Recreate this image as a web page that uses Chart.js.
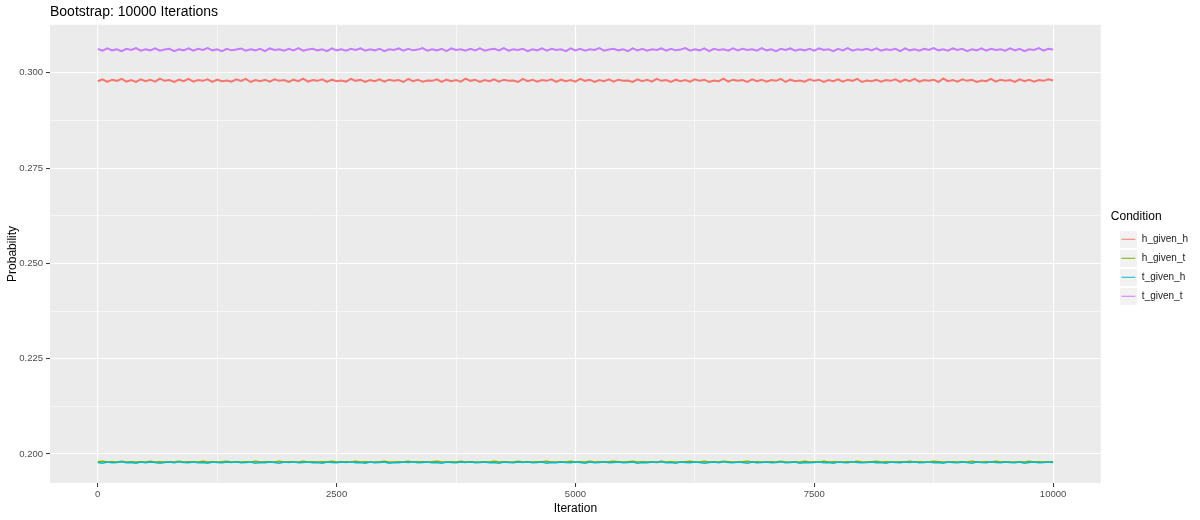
<!DOCTYPE html>
<html>
<head>
<meta charset="utf-8">
<title>Bootstrap: 10000 Iterations</title>
<script src="https://cdn.jsdelivr.net/npm/chart.js@4.4.1/dist/chart.umd.min.js"></script>
<style>
  html, body { margin: 0; padding: 0; background: #fff; }
  #wrap { width: 1200px; height: 520px; }
</style>
</head>
<body>
<div id="wrap"><canvas id="lineChart" width="1200" height="520"></canvas></div>
<script>
// iteration index (read every 50 iterations)
const iterations = [
  0, 50, 100, 150, 200, 250, 300, 350, 400, 450,
  500, 550, 600, 650, 700, 750, 800, 850, 900, 950,
  1000, 1050, 1100, 1150, 1200, 1250, 1300, 1350, 1400, 1450,
  1500, 1550, 1600, 1650, 1700, 1750, 1800, 1850, 1900, 1950,
  2000, 2050, 2100, 2150, 2200, 2250, 2300, 2350, 2400, 2450,
  2500, 2550, 2600, 2650, 2700, 2750, 2800, 2850, 2900, 2950,
  3000, 3050, 3100, 3150, 3200, 3250, 3300, 3350, 3400, 3450,
  3500, 3550, 3600, 3650, 3700, 3750, 3800, 3850, 3900, 3950,
  4000, 4050, 4100, 4150, 4200, 4250, 4300, 4350, 4400, 4450,
  4500, 4550, 4600, 4650, 4700, 4750, 4800, 4850, 4900, 4950,
  5000, 5050, 5100, 5150, 5200, 5250, 5300, 5350, 5400, 5450,
  5500, 5550, 5600, 5650, 5700, 5750, 5800, 5850, 5900, 5950,
  6000, 6050, 6100, 6150, 6200, 6250, 6300, 6350, 6400, 6450,
  6500, 6550, 6600, 6650, 6700, 6750, 6800, 6850, 6900, 6950,
  7000, 7050, 7100, 7150, 7200, 7250, 7300, 7350, 7400, 7450,
  7500, 7550, 7600, 7650, 7700, 7750, 7800, 7850, 7900, 7950,
  8000, 8050, 8100, 8150, 8200, 8250, 8300, 8350, 8400, 8450,
  8500, 8550, 8600, 8650, 8700, 8750, 8800, 8850, 8900, 8950,
  9000, 9050, 9100, 9150, 9200, 9250, 9300, 9350, 9400, 9450,
  9500, 9550, 9600, 9650, 9700, 9750, 9800, 9850, 9900, 9950,
  10000
];

const conditions = ['h_given_h', 'h_given_t', 't_given_h', 't_given_t'];
const colors = ['#F8766D', '#7CAE00', '#00BFC4', '#C77CFF'];
const lineWidths = [2, 1.5, 1.5, 2];

const hGivenH = [
  0.2978, 0.2983, 0.2976, 0.2982, 0.2979, 0.2984, 0.2977, 0.2981, 0.2976, 0.2983,
  0.2978, 0.2982, 0.2977, 0.2985, 0.2979, 0.2981, 0.2976, 0.2982, 0.2978, 0.2984,
  0.2977, 0.2981, 0.2979, 0.2983, 0.2976, 0.2982, 0.2978, 0.2980, 0.2977, 0.2983,
  0.2979, 0.2984, 0.2976, 0.2981, 0.2978, 0.2982, 0.2977, 0.2983, 0.2979, 0.2981,
  0.2976, 0.2982, 0.2978, 0.2985, 0.2977, 0.2981, 0.2979, 0.2983, 0.2976, 0.2982,
  0.2978, 0.2980, 0.2977, 0.2984, 0.2979, 0.2982, 0.2976, 0.2981, 0.2978, 0.2983,
  0.2977, 0.2982, 0.2979, 0.2981, 0.2976, 0.2984, 0.2978, 0.2982, 0.2977, 0.2980,
  0.2979, 0.2983, 0.2976, 0.2982, 0.2978, 0.2981, 0.2977, 0.2985, 0.2979, 0.2982,
  0.2976, 0.2981, 0.2978, 0.2983, 0.2977, 0.2982, 0.2979, 0.2980, 0.2976, 0.2984,
  0.2978, 0.2982, 0.2977, 0.2981, 0.2979, 0.2983, 0.2976, 0.2982, 0.2978, 0.2981,
  0.2977, 0.2984, 0.2979, 0.2982, 0.2976, 0.2981, 0.2978, 0.2983, 0.2977, 0.2982,
  0.2979, 0.2980, 0.2976, 0.2983, 0.2978, 0.2982, 0.2977, 0.2984, 0.2979, 0.2981,
  0.2976, 0.2982, 0.2978, 0.2981, 0.2977, 0.2983, 0.2979, 0.2982, 0.2976, 0.2980,
  0.2978, 0.2985, 0.2977, 0.2982, 0.2979, 0.2981, 0.2976, 0.2983, 0.2978, 0.2982,
  0.2977, 0.2981, 0.2979, 0.2984, 0.2976, 0.2982, 0.2978, 0.2980, 0.2977, 0.2983,
  0.2979, 0.2982, 0.2976, 0.2981, 0.2978, 0.2983, 0.2977, 0.2982, 0.2979, 0.2984,
  0.2976, 0.2980, 0.2978, 0.2982, 0.2977, 0.2981, 0.2979, 0.2983, 0.2976, 0.2982,
  0.2978, 0.2984, 0.2977, 0.2981, 0.2979, 0.2982, 0.2976, 0.2985, 0.2978, 0.2981,
  0.2977, 0.2983, 0.2979, 0.2982, 0.2976, 0.2980, 0.2978, 0.2984, 0.2977, 0.2982,
  0.2979, 0.2981, 0.2976, 0.2983, 0.2978, 0.2982, 0.2977, 0.2981, 0.2979, 0.2983,
  0.2980
];

const hGivenT = [
  0.1980, 0.1981, 0.1979, 0.1980, 0.1979, 0.1981, 0.1979, 0.1980, 0.1979, 0.1980,
  0.1979, 0.1981, 0.1979, 0.1980, 0.1979, 0.1980, 0.1979, 0.1981, 0.1979, 0.1980,
  0.1980, 0.1979, 0.1981, 0.1979, 0.1980, 0.1979, 0.1980, 0.1981, 0.1979, 0.1980,
  0.1979, 0.1980, 0.1979, 0.1981, 0.1979, 0.1980, 0.1980, 0.1979, 0.1981, 0.1979,
  0.1980, 0.1979, 0.1979, 0.1981, 0.1979, 0.1980, 0.1979, 0.1980, 0.1979, 0.1981,
  0.1979, 0.1980, 0.1980, 0.1979, 0.1981, 0.1979, 0.1980, 0.1979, 0.1979, 0.1980,
  0.1981, 0.1979, 0.1979, 0.1980, 0.1979, 0.1981, 0.1979, 0.1980, 0.1980, 0.1979,
  0.1980, 0.1981, 0.1979, 0.1979, 0.1980, 0.1979, 0.1981, 0.1979, 0.1980, 0.1979,
  0.1979, 0.1980, 0.1979, 0.1981, 0.1979, 0.1980, 0.1979, 0.1979, 0.1981, 0.1979,
  0.1980, 0.1979, 0.1980, 0.1980, 0.1981, 0.1979, 0.1979, 0.1980, 0.1979, 0.1981,
  0.1979, 0.1980, 0.1979, 0.1981, 0.1979, 0.1980, 0.1979, 0.1980, 0.1981, 0.1980,
  0.1979, 0.1980, 0.1981, 0.1979, 0.1980, 0.1979, 0.1980, 0.1979, 0.1981, 0.1979,
  0.1980, 0.1979, 0.1979, 0.1980, 0.1981, 0.1979, 0.1979, 0.1981, 0.1979, 0.1980,
  0.1979, 0.1981, 0.1980, 0.1979, 0.1979, 0.1980, 0.1981, 0.1979, 0.1980, 0.1979,
  0.1979, 0.1980, 0.1979, 0.1981, 0.1979, 0.1979, 0.1980, 0.1979, 0.1981, 0.1979,
  0.1980, 0.1979, 0.1981, 0.1979, 0.1980, 0.1979, 0.1979, 0.1980, 0.1979, 0.1981,
  0.1979, 0.1979, 0.1980, 0.1981, 0.1979, 0.1980, 0.1979, 0.1979, 0.1980, 0.1979,
  0.1981, 0.1979, 0.1980, 0.1979, 0.1979, 0.1981, 0.1980, 0.1979, 0.1979, 0.1980,
  0.1979, 0.1980, 0.1979, 0.1981, 0.1979, 0.1979, 0.1980, 0.1979, 0.1981, 0.1979,
  0.1980, 0.1979, 0.1979, 0.1980, 0.1979, 0.1981, 0.1979, 0.1980, 0.1979, 0.1980,
  0.1980
];

const tGivenH = [
  0.1978, 0.1976, 0.1979, 0.1977, 0.1978, 0.1980, 0.1977, 0.1978, 0.1976, 0.1979,
  0.1977, 0.1979, 0.1978, 0.1976, 0.1978, 0.1979, 0.1977, 0.1980, 0.1978, 0.1977,
  0.1979, 0.1977, 0.1978, 0.1976, 0.1979, 0.1978, 0.1977, 0.1979, 0.1978, 0.1980,
  0.1977, 0.1978, 0.1979, 0.1976, 0.1978, 0.1977, 0.1979, 0.1978, 0.1976, 0.1979,
  0.1978, 0.1980, 0.1977, 0.1978, 0.1979, 0.1977, 0.1978, 0.1976, 0.1979, 0.1978,
  0.1977, 0.1979, 0.1978, 0.1980, 0.1977, 0.1978, 0.1976, 0.1979, 0.1977, 0.1978,
  0.1979, 0.1976, 0.1978, 0.1977, 0.1979, 0.1978, 0.1980, 0.1977, 0.1978, 0.1979,
  0.1977, 0.1978, 0.1976, 0.1979, 0.1978, 0.1977, 0.1979, 0.1978, 0.1980, 0.1977,
  0.1978, 0.1979, 0.1977, 0.1978, 0.1976, 0.1979, 0.1978, 0.1977, 0.1979, 0.1978,
  0.1980, 0.1977, 0.1978, 0.1979, 0.1976, 0.1978, 0.1977, 0.1979, 0.1978, 0.1977,
  0.1979, 0.1978, 0.1976, 0.1979, 0.1977, 0.1978, 0.1980, 0.1977, 0.1978, 0.1979,
  0.1977, 0.1978, 0.1979, 0.1976, 0.1978, 0.1977, 0.1979, 0.1978, 0.1980, 0.1977,
  0.1978, 0.1976, 0.1979, 0.1978, 0.1977, 0.1979, 0.1978, 0.1976, 0.1978, 0.1979,
  0.1977, 0.1980, 0.1978, 0.1977, 0.1979, 0.1978, 0.1976, 0.1979, 0.1977, 0.1978,
  0.1979, 0.1977, 0.1978, 0.1980, 0.1977, 0.1978, 0.1979, 0.1976, 0.1978, 0.1977,
  0.1978, 0.1979, 0.1977, 0.1978, 0.1976, 0.1979, 0.1978, 0.1977, 0.1980, 0.1978,
  0.1977, 0.1978, 0.1979, 0.1977, 0.1978, 0.1976, 0.1979, 0.1978, 0.1977, 0.1979,
  0.1978, 0.1980, 0.1977, 0.1978, 0.1979, 0.1977, 0.1978, 0.1976, 0.1979, 0.1978,
  0.1977, 0.1979, 0.1978, 0.1976, 0.1979, 0.1978, 0.1977, 0.1980, 0.1978, 0.1977,
  0.1979, 0.1978, 0.1977, 0.1979, 0.1976, 0.1978, 0.1979, 0.1977, 0.1978, 0.1979,
  0.1978
];

const tGivenT = [
  0.3063, 0.3058, 0.3064, 0.3059, 0.3062, 0.3057, 0.3063, 0.3060, 0.3065, 0.3058,
  0.3062, 0.3059, 0.3064, 0.3058, 0.3061, 0.3063, 0.3057, 0.3062, 0.3059, 0.3064,
  0.3058, 0.3063, 0.3060, 0.3065, 0.3059, 0.3062, 0.3057, 0.3063, 0.3059, 0.3061,
  0.3064, 0.3058, 0.3062, 0.3059, 0.3063, 0.3057, 0.3064, 0.3060, 0.3062, 0.3058,
  0.3063, 0.3059, 0.3065, 0.3058, 0.3061, 0.3063, 0.3059, 0.3062, 0.3057, 0.3064,
  0.3059, 0.3062, 0.3058, 0.3063, 0.3060, 0.3064, 0.3058, 0.3062, 0.3059, 0.3063,
  0.3057, 0.3062, 0.3060, 0.3064, 0.3058, 0.3063, 0.3059, 0.3061, 0.3065, 0.3058,
  0.3062, 0.3059, 0.3063, 0.3057, 0.3064, 0.3060, 0.3062, 0.3058, 0.3063, 0.3059,
  0.3064, 0.3058, 0.3061, 0.3063, 0.3059, 0.3065, 0.3058, 0.3062, 0.3060, 0.3063,
  0.3057, 0.3062, 0.3059, 0.3064, 0.3058, 0.3063, 0.3060, 0.3062, 0.3057, 0.3064,
  0.3059, 0.3063, 0.3058, 0.3062, 0.3060, 0.3065, 0.3058, 0.3061, 0.3063, 0.3059,
  0.3062, 0.3057, 0.3064, 0.3059, 0.3063, 0.3058, 0.3062, 0.3060, 0.3064, 0.3058,
  0.3063, 0.3059, 0.3061, 0.3065, 0.3058, 0.3062, 0.3059, 0.3064, 0.3057, 0.3063,
  0.3060, 0.3062, 0.3058, 0.3064, 0.3059, 0.3063, 0.3060, 0.3062, 0.3058, 0.3065,
  0.3059, 0.3062, 0.3057, 0.3063, 0.3060, 0.3064, 0.3058, 0.3062, 0.3059, 0.3063,
  0.3058, 0.3064, 0.3060, 0.3062, 0.3057, 0.3063, 0.3059, 0.3065, 0.3058, 0.3062,
  0.3060, 0.3063, 0.3059, 0.3064, 0.3058, 0.3062, 0.3060, 0.3063, 0.3057, 0.3064,
  0.3059, 0.3062, 0.3058, 0.3063, 0.3060, 0.3065, 0.3059, 0.3062, 0.3058, 0.3064,
  0.3060, 0.3063, 0.3057, 0.3062, 0.3059, 0.3064, 0.3058, 0.3063, 0.3060, 0.3062,
  0.3058, 0.3064, 0.3059, 0.3063, 0.3057, 0.3062, 0.3060, 0.3065, 0.3058, 0.3063,
  0.3061
];

const series = [hGivenH, hGivenT, tGivenH, tGivenT];

// major + minor break positions (ggplot style)
const xTickValues = [0, 1250, 2500, 3750, 5000, 6250, 7500, 8750, 10000];
const yTickValues = [0.2, 0.2125, 0.225, 0.2375, 0.25, 0.2625, 0.275, 0.2875, 0.3];

function isMajorX(v) { return v % 2500 === 0; }
function isMajorY(v) { return Math.round(v * 1000) % 25 === 0; }

// legend key: grey square with a short coloured line
function legendKey(color) {
  var c = document.createElement('canvas');
  c.width = 17; c.height = 17;
  var g = c.getContext('2d');
  g.fillStyle = '#F2F2F2';
  g.fillRect(0, 0, 17, 17);
  g.strokeStyle = color;
  g.lineWidth = 1;
  g.beginPath();
  g.moveTo(1.5, 8.5);
  g.lineTo(15.5, 8.5);
  g.stroke();
  return c;
}

// grey panel behind the plot
const panelBg = {
  id: 'panelBg',
  beforeDraw(chart) {
    var a = chart.chartArea, ctx = chart.ctx;
    ctx.save();
    ctx.fillStyle = '#EBEBEB';
    ctx.fillRect(a.left, a.top, a.right - a.left, a.bottom - a.top);
    ctx.restore();
  }
};

// nudge the legend a little to the right of the panel
const legendNudge = {
  id: 'legendNudge',
  afterLayout(chart) {
    var l = chart.legend;
    if (l) { l.left += 10; l.right += 10; }
  }
};

Chart.defaults.font.family = '"Liberation Sans", Arial, sans-serif';

document.addEventListener("DOMContentLoaded", () => {
  new Chart(document.querySelector('#lineChart'), {
    type: 'line',
    data: {
      datasets: conditions.map((name, i) => ({
        label: name,
        data: iterations.map((x, j) => ({ x: x, y: series[i][j] })),
        borderColor: colors[i],
        backgroundColor: colors[i],
        borderWidth: lineWidths[i],
        pointRadius: 0,
        pointStyle: legendKey(colors[i]),
        tension: 0,
        fill: false,
        order: conditions.length - 1 - i
      }))
    },
    options: {
      responsive: false,
      animation: false,
      layout: { padding: { top: 0, left: 4, right: 12, bottom: 3 } },
      plugins: {
        title: {
          display: true,
          text: 'Bootstrap: 10000 Iterations',
          align: 'start',
          fullSize: false,
          color: '#000',
          font: { size: 14, weight: 'normal' },
          padding: { top: 4, bottom: 4 }
        },
        legend: {
          position: 'right',
          title: {
            display: true,
            text: 'Condition',
            color: '#000',
            position: 'start',
            font: { size: 12 },
            padding: { top: 4, bottom: 0 }
          },
          labels: {
            usePointStyle: true,
            pointStyleWidth: 17,
            color: '#1A1A1A',
            font: { size: 10 },
            padding: 9,
            sort: (a, b) => a.datasetIndex - b.datasetIndex
          }
        },
        tooltip: { enabled: false }
      },
      scales: {
        x: {
          type: 'linear',
          min: -500,
          max: 10500,
          afterBuildTicks: s => { s.ticks = xTickValues.map(v => ({ value: v })); },
          afterFit: s => { s.height = 34; },
          border: { display: false },
          grid: {
            color: '#FFFFFF',
            lineWidth: c => isMajorX(c.tick.value) ? 1.1 : 0.55,
            tickLength: 4,
            tickWidth: 1,
            tickColor: c => isMajorX(c.tick.value) ? '#333333' : 'rgba(0,0,0,0)'
          },
          ticks: {
            autoSkip: false,
            maxRotation: 0,
            padding: 2,
            color: '#4D4D4D',
            font: { size: 9.5 },
            callback: v => isMajorX(v) ? String(v) : ''
          },
          title: {
            display: true,
            text: 'Iteration',
            color: '#000',
            font: { size: 12 },
            padding: { top: 0, bottom: 1 }
          }
        },
        y: {
          min: 0.1924,
          max: 0.3126,
          afterBuildTicks: s => { s.ticks = yTickValues.map(v => ({ value: v })); },
          afterFit: s => { s.width = 46; },
          border: { display: false },
          grid: {
            color: '#FFFFFF',
            lineWidth: c => isMajorY(c.tick.value) ? 1.1 : 0.55,
            tickLength: 4,
            tickWidth: 1,
            tickColor: c => isMajorY(c.tick.value) ? '#333333' : 'rgba(0,0,0,0)'
          },
          ticks: {
            autoSkip: false,
            padding: 3,
            color: '#4D4D4D',
            font: { size: 9.5 },
            callback: v => isMajorY(v) ? v.toFixed(3) : ''
          },
          title: {
            display: true,
            text: 'Probability',
            color: '#000',
            font: { size: 12 },
            padding: { top: 1, bottom: 0 }
          }
        }
      }
    },
    plugins: [panelBg, legendNudge]
  });
});
</script>
</body>
</html>
